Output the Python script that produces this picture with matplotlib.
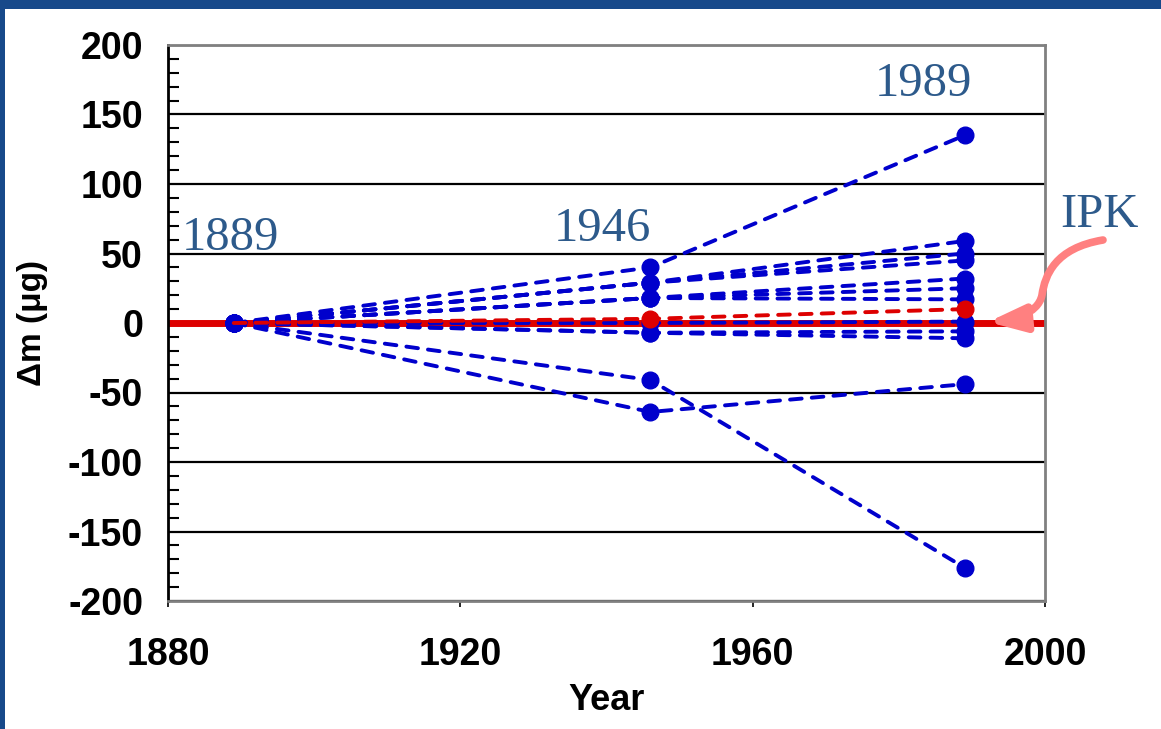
import matplotlib
matplotlib.use("Agg")
import matplotlib.pyplot as plt
from matplotlib.patches import FancyArrowPatch, Rectangle
from matplotlib.path import Path
from matplotlib.ticker import MultipleLocator

plt.rcParams["axes.unicode_minus"] = False

# mass change of the copies relative to the IPK, at each verification
years = [1889, 1946, 1989]
copies = [
    [0, 40, 135],
    [0, 29, 59],
    [0, 29, 50],
    [0, 29, 45],
    [0, 18, 32],
    [0, 18, 25],
    [0, 18, 17],
    [0, 0, 1],
    [0, -7, -6],
    [0, -7, -11],
    [0, -41, -176],
    [0, -64, -44],
]
red_copy = [0, 3, 10]
labels = ["1889", "1946", "1989"]

blue = "#0000cc"
red = "#dd0000"
note = "#2d5a8b"

fig = plt.figure(figsize=(11.61, 7.29), dpi=100)
fig.patch.set_facecolor("#17498a")
# white slide area
fig.patches.append(Rectangle((5 / 1161, 0), 1, 1 - 9 / 729, transform=fig.transFigure,
                             facecolor="white", edgecolor="none", zorder=-10))

ax = fig.add_axes([168 / 1161, 1 - 601 / 729, (1045 - 168) / 1161, (601 - 45) / 729])
ax.set_facecolor("white")
ax.set_xlim(1880, 2000)
ax.set_ylim(-200, 200)

# IPK reference line
ax.plot([1880, 2000], [0, 0], color=red, lw=5, zorder=2, solid_capstyle="butt")

for c in copies:
    ax.plot(years, c, color=blue, lw=2.8, ls=(0, (3, 2.6)), dash_capstyle="round",
            marker="o", ms=12, zorder=3)
ax.plot(years, red_copy, color=red, lw=2.8, ls=(0, (3, 2.6)), dash_capstyle="round",
        marker="o", ms=12, markevery=[1, 2], zorder=4)

ax.yaxis.set_major_locator(MultipleLocator(50))
ax.yaxis.set_minor_locator(MultipleLocator(10))
ax.xaxis.set_major_locator(MultipleLocator(40))
ax.grid(axis="y", which="major", color="black", lw=1.6, zorder=1)
ax.set_axisbelow(True)
ax.tick_params(axis="y", which="major", length=0, pad=18)
ax.tick_params(axis="y", which="minor", direction="in", length=8, width=1.5)
ax.tick_params(axis="x", direction="out", length=4, width=1.2, pad=22)
for t in ax.get_xticklabels() + ax.get_yticklabels():
    t.set_fontfamily("Liberation Sans")
    t.set_fontweight("bold")
    t.set_fontsize(27)

ax.spines["left"].set_color("black")
ax.spines["left"].set_linewidth(2)
for s in ["top", "right", "bottom"]:
    ax.spines[s].set_color("#808080")
    ax.spines[s].set_linewidth(2)

ax.set_xlabel("Year", fontsize=26, fontweight="bold", family="Liberation Sans", labelpad=7)
ax.set_ylabel("Δm (μg)", fontsize=24, fontweight="bold", family="Liberation Sans", labelpad=14)

# year notes
ax.text(1888.5, 45, labels[0], family="Liberation Serif", fontsize=35, color=note,
        ha="center", va="bottom")
ax.text(1939.4, 52, labels[1], family="Liberation Serif", fontsize=35, color=note,
        ha="center", va="bottom")
ax.text(1983.3, 156, labels[2], family="Liberation Serif", fontsize=35, color=note,
        ha="center", va="bottom")
fig.text(1099 / 1161, 1 - 227 / 729, "IPK", family="Liberation Serif", fontsize=35,
         color=note, ha="center", va="baseline")

# curved arrow pointing at the reference line
px = lambda x, y: (x / 1161, 1 - y / 729)
verts = [px(1103, 240), px(1055, 248), px(1045, 275), px(1042, 295),
         px(1038, 315), px(1010, 320), px(988, 322)]
codes = [Path.MOVETO, Path.CURVE4, Path.CURVE4, Path.CURVE4,
         Path.CURVE4, Path.CURVE4, Path.CURVE4]
arrow = FancyArrowPatch(path=Path(verts, codes), transform=fig.transFigure,
                        arrowstyle="-|>,head_length=22,head_width=8",
                        color="#ff8080", lw=5.5, zorder=5, mutation_scale=1)
fig.patches.append(arrow)

fig.savefig("out.png", dpi=100, facecolor=fig.get_facecolor())
